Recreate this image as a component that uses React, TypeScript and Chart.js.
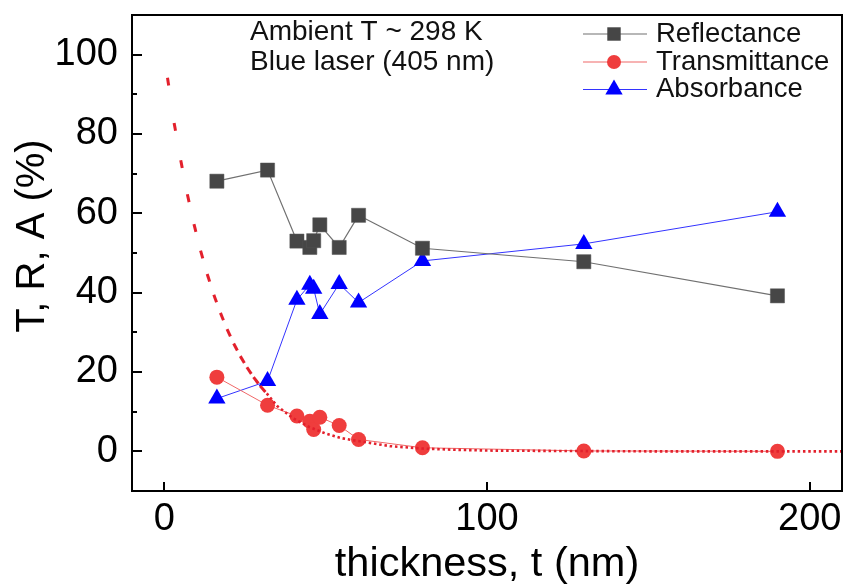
import React, { useEffect, useRef } from 'react';
import { Chart, registerables } from 'chart.js';

Chart.register(...registerables);

const FONT = "'Liberation Sans', Arial, Helvetica, sans-serif";

// ---- data ----
const thickness = [16.3, 32.0, 41.1, 45.1, 46.3, 48.2, 54.2, 60.2, 80.0, 130.0, 190.0];
const reflectance = [68.1, 70.9, 53.0, 51.4, 53.1, 57.1, 51.4, 59.5, 51.2, 47.8, 39.2];
const transmittance = [18.7, 11.6, 8.9, 7.6, 5.5, 8.6, 6.5, 3.0, 0.9, 0.1, 0.0];
const absorbance = [13.3, 17.7, 38.2, 42.0, 41.0, 34.6, 42.2, 37.5, 48.0, 52.3, 60.4];

// fitted transmittance curve (read along the red dashed / dotted line)
const fitThickness = [1.0, 3.05, 5.1, 7.15, 9.2, 11.25, 13.3, 15.35, 17.4, 19.45, 21.5, 23.55, 25.6, 27.65, 29.7, 31.75, 35, 40, 45, 50, 55, 60, 70, 80, 90, 100, 120, 150, 210];
const fitValues = [94.2, 82.8, 73.4, 64.8, 57.3, 50.6, 44.7, 39.5, 34.9, 30.8, 27.2, 24.0, 21.2, 18.7, 16.5, 14.6, 11.4, 8.3, 6.1, 4.5, 3.3, 2.6, 1.3, 0.7, 0.4, 0.2, 0.1, 0.0, 0.0];

const xTicks = [0, 100, 200];
const yTicks = [0, 20, 40, 60, 80, 100];
const yMinorTicks = [10, 30, 50, 70, 90];

const seriesLabels = ['Reflectance', 'Transmittance', 'Absorbance'];
const noteLines = ['Ambient T ~ 298 K', 'Blue laser (405 nm)'];
const xTitle = 'thickness, t (nm)';
const yTitle = 'T, R, A (%)';

const C = {
  rFill: '#464646',
  rLine: '#707070',
  tFill: '#ef3d3d',
  tLine: '#f06868',
  aFill: '#0000ff',
  aLine: '#3333ff',
  fit: '#e3202c',
};

const toPts = (xs: number[], ys: number[]) => xs.map((x, i) => ({ x, y: ys[i] }));

function drawMarker(ctx: CanvasRenderingContext2D, style: string, x: number, y: number, r: number, fill: string) {
  ctx.fillStyle = fill;
  ctx.beginPath();
  if (style === 'rect') {
    const s = Math.SQRT1_2 * r;
    ctx.rect(x - s, y - s, 2 * s, 2 * s);
  } else if (style === 'circle') {
    ctx.arc(x, y, r, 0, Math.PI * 2);
  } else {
    let rad = 0;
    ctx.moveTo(x + Math.sin(rad) * r, y - Math.cos(rad) * r);
    rad += (2 * Math.PI) / 3;
    ctx.lineTo(x + Math.sin(rad) * r, y - Math.cos(rad) * r);
    rad += (2 * Math.PI) / 3;
    ctx.lineTo(x + Math.sin(rad) * r, y - Math.cos(rad) * r);
    ctx.closePath();
  }
  ctx.fill();
}

const decorPlugin = {
  id: 'decor',
  afterDraw(chart: any) {
    const { ctx, chartArea: a, scales } = chart;
    const xs = scales.x;
    const ys = scales.y;
    ctx.save();
    // frame
    ctx.strokeStyle = '#000';
    ctx.lineWidth = 2;
    ctx.strokeRect(a.left, a.top, a.right - a.left, a.bottom - a.top);
    // inward ticks
    ctx.beginPath();
    yTicks.forEach((v) => {
      const p = Math.round(ys.getPixelForValue(v));
      ctx.moveTo(a.left, p);
      ctx.lineTo(a.left + 10, p);
    });
    yMinorTicks.forEach((v) => {
      const p = Math.round(ys.getPixelForValue(v));
      ctx.moveTo(a.left, p);
      ctx.lineTo(a.left + 5, p);
    });
    xTicks.forEach((v) => {
      const p = Math.round(xs.getPixelForValue(v));
      ctx.moveTo(p, a.bottom);
      ctx.lineTo(p, a.bottom - 9);
    });
    ctx.stroke();

    // y title
    ctx.save();
    ctx.translate(33, 236);
    ctx.rotate(-Math.PI / 2);
    ctx.font = `40px ${FONT}`;
    ctx.fillStyle = '#000';
    ctx.textAlign = 'center';
    ctx.textBaseline = 'middle';
    ctx.fillText(yTitle, 0, 0);
    ctx.restore();

    // note
    ctx.font = `28px ${FONT}`;
    ctx.fillStyle = '#111';
    ctx.textAlign = 'left';
    ctx.textBaseline = 'middle';
    ctx.fillText(noteLines[0], 250, 32);
    ctx.fillText(noteLines[1], 250, 62);

    // legend
    const rows = [34, 62, 89.5];
    const styles = ['rect', 'circle', 'triangle'];
    const fills = [C.rFill, C.tFill, C.aFill];
    const lines = [C.rLine, C.tLine, C.aLine];
    const radii = [9.5, 7, 10];
    rows.forEach((ry, i) => {
      ctx.strokeStyle = lines[i];
      ctx.lineWidth = 1.2;
      ctx.beginPath();
      ctx.moveTo(583, ry);
      ctx.lineTo(647, ry);
      ctx.stroke();
      drawMarker(ctx, styles[i], 614, ry, radii[i], fills[i]);
      ctx.fillStyle = '#111';
      ctx.font = `27.5px ${FONT}`;
      ctx.fillText(seriesLabels[i], 656, ry);
    });
    ctx.restore();
  },
};

export default function App() {
  const ref = useRef<HTMLCanvasElement | null>(null);

  useEffect(() => {
    document.body.style.margin = '0';
    const canvas = ref.current;
    if (!canvas) return;
    const chart = new Chart(canvas, {
      type: 'line',
      data: {
        datasets: [
          {
            label: 'fit',
            data: toPts(fitThickness, fitValues),
            borderColor: C.fit,
            borderWidth: 2.8,
            pointRadius: 0,
            fill: false,
            borderCapStyle: 'butt',
            segment: {
              borderDash: (c: any) => (c.p0.parsed.x < 31 ? [8, 100] : [2.5, 2.8]),
              borderDashOffset: (c: any) => (c.p0.parsed.x < 31 ? (c.p0DataIndex % 2 ? 0.001 : 0) : 0),
              borderWidth: (c: any) => (c.p0.parsed.x < 31 ? 3 : 2.6),
            },
          } as any,
          {
            label: seriesLabels[0],
            data: toPts(thickness, reflectance),
            borderColor: C.rLine,
            borderWidth: 1.2,
            pointStyle: 'rect',
            pointRadius: 10,
            pointBackgroundColor: C.rFill,
            pointBorderColor: '#555',
            pointBorderWidth: 0.5,
          },
          {
            label: seriesLabels[1],
            data: toPts(thickness, transmittance),
            borderColor: C.tLine,
            borderWidth: 1,
            pointStyle: 'circle',
            pointRadius: 7.5,
            pointBackgroundColor: C.tFill,
            pointBorderColor: C.tFill,
            pointBorderWidth: 0,
          },
          {
            label: seriesLabels[2],
            data: toPts(thickness, absorbance),
            borderColor: C.aLine,
            borderWidth: 1,
            pointStyle: 'triangle',
            pointRadius: 10,
            pointBackgroundColor: C.aFill,
            pointBorderColor: C.aFill,
            pointBorderWidth: 0,
          },
        ],
      },
      options: {
        responsive: false,
        animation: false,
        devicePixelRatio: 1,
        layout: { autoPadding: false, padding: { top: 15, right: 3, left: 0, bottom: 0 } },
        plugins: { legend: { display: false }, tooltip: { enabled: false } },
        elements: { line: { tension: 0 } },
        scales: {
          x: {
            type: 'linear',
            min: -10,
            max: 210,
            afterBuildTicks: (s: any) => {
              s.ticks = xTicks.map((v) => ({ value: v }));
            },
            afterFit: (s: any) => {
              s.height = 94;
              s.paddingLeft = 0;
              s.paddingRight = 0;
            },
            grid: { display: false, drawTicks: false },
            border: { display: false },
            ticks: { padding: 6, color: '#000', font: { family: FONT, size: 38, lineHeight: 1.2 } },
            title: {
              display: true,
              text: xTitle,
              color: '#000',
              font: { family: FONT, size: 41.5, lineHeight: 1 },
              padding: { top: 0, bottom: 0 },
            },
          },
          y: {
            type: 'linear',
            min: -10,
            max: 110,
            afterBuildTicks: (s: any) => {
              s.ticks = yTicks.map((v) => ({ value: v }));
            },
            afterFit: (s: any) => {
              s.width = 132;
              s.paddingTop = 0;
              s.paddingBottom = 0;
            },
            grid: { display: false, drawTicks: false },
            border: { display: false },
            ticks: { padding: 14, color: '#000', font: { family: FONT, size: 38 } },
          },
        },
      } as any,
      plugins: [decorPlugin],
    });
    return () => chart.destroy();
  }, []);

  return (
    <div style={{ position: 'fixed', left: 0, top: 0, width: 845, height: 585, background: '#fff' }}>
      <canvas ref={ref} width={845} height={585} style={{ display: 'block', width: 845, height: 585 }} />
    </div>
  );
}
